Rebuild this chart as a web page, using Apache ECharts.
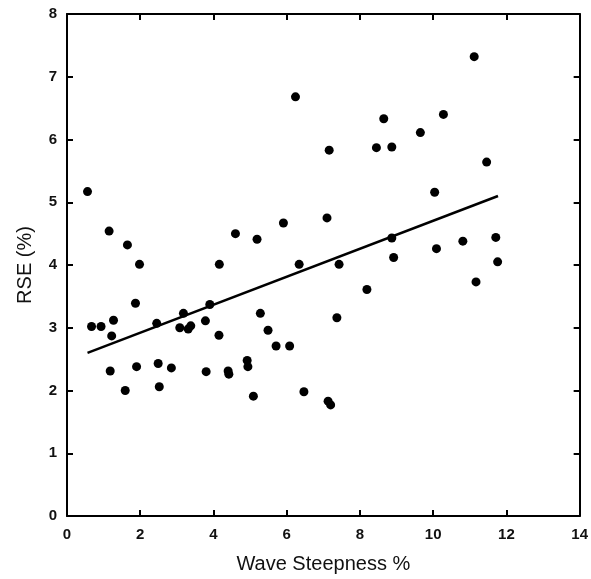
<!DOCTYPE html>
<html>
<head>
<meta charset="utf-8">
<script src="https://cdn.jsdelivr.net/npm/echarts@6/dist/echarts.min.js"></script>
<style>
html, body { margin: 0; padding: 0; background: #fff; }
#chart { width: 591px; height: 579px; }
</style>
</head>
<body>
<div id="chart"></div>
<script>
// wave steepness (%) vs RSE (%)
var steepness = [0.56, 1.15, 1.65, 1.98, 4.16, 4.6, 5.19, 5.91, 6.24, 6.34,
    11.12, 7.16, 8.65, 10.28, 9.65, 8.45, 8.87, 11.46, 10.04, 7.1,
    8.87, 11.71, 10.81, 10.09, 8.92, 7.43, 11.76, 11.17, 8.19, 7.37,
    6.47, 7.13, 7.2, 0.67, 0.93, 1.27, 1.22, 1.87, 1.18, 1.59,
    1.9, 2.45, 2.49, 2.52, 2.85, 3.08, 3.18, 3.31, 3.38, 3.78,
    3.9, 3.8, 4.15, 4.4, 4.42, 4.92, 4.94, 5.09, 5.28, 5.49,
    5.71, 6.08];
var rse = [5.17, 4.54, 4.32, 4.01, 4.01, 4.5, 4.41, 4.67, 6.68, 4.01,
    7.32, 5.83, 6.33, 6.4, 6.11, 5.87, 5.88, 5.64, 5.16, 4.75,
    4.43, 4.44, 4.38, 4.26, 4.12, 4.01, 4.05, 3.73, 3.61, 3.16,
    1.98, 1.83, 1.77, 3.02, 3.02, 3.12, 2.87, 3.39, 2.31, 2.0,
    2.38, 3.07, 2.43, 2.06, 2.36, 3.0, 3.23, 2.98, 3.03, 3.11,
    3.37, 2.3, 2.88, 2.31, 2.26, 2.48, 2.38, 1.91, 3.23, 2.96,
    2.71, 2.71];
// regression line end points
var fitX = [0.56, 11.77];
var fitY = [2.6, 5.1];
var xTicks = [0, 2, 4, 6, 8, 10, 12, 14];
var yTicks = [0, 1, 2, 3, 4, 5, 6, 7, 8];

var points = steepness.map(function (x, i) { return [x, rse[i]]; });
var fitLine = fitX.map(function (x, i) { return [x, fitY[i]]; });

var font = 'Liberation Sans, Arial, Helvetica, sans-serif';
var axisLine = { show: true, onZero: false, lineStyle: { color: '#000', width: 2 } };
var tickIn = { show: true, inside: true, length: 6, lineStyle: { color: '#000', width: 2 } };

var myChart = echarts.init(document.getElementById('chart'));
var option = {
    backgroundColor: '#fff',
    animation: false,
    grid: { left: 67, right: 11, top: 14, bottom: 59 },
    xAxis: [{
        type: 'value', min: xTicks[0], max: xTicks[xTicks.length - 1], interval: 2,
        position: 'bottom',
        name: 'Wave Steepness %', nameLocation: 'middle', nameGap: 38,
        nameTextStyle: { fontFamily: font, fontSize: 20, color: '#111' },
        axisLine: axisLine, axisTick: tickIn, splitLine: { show: false },
        axisLabel: { fontFamily: font, fontSize: 15, fontWeight: 'bold', color: '#111', margin: 11 }
    }, {
        type: 'value', min: 0, max: 14, interval: 2, position: 'top',
        axisLine: axisLine, axisTick: tickIn, axisLabel: { show: false }, splitLine: { show: false }
    }],
    yAxis: [{
        type: 'value', min: yTicks[0], max: yTicks[yTicks.length - 1], interval: 1,
        position: 'left',
        name: 'RSE (%)', nameLocation: 'middle', nameGap: 32, nameRotate: 90,
        nameTextStyle: { fontFamily: font, fontSize: 20, color: '#111' },
        axisLine: axisLine, axisTick: tickIn, splitLine: { show: false },
        axisLabel: { fontFamily: font, fontSize: 15, fontWeight: 'bold', color: '#111', margin: 10 }
    }, {
        type: 'value', min: 0, max: 8, interval: 1, position: 'right',
        axisLine: axisLine, axisTick: tickIn, axisLabel: { show: false }, splitLine: { show: false }
    }],
    series: [{
        type: 'scatter',
        data: points,
        symbol: 'circle',
        symbolSize: 9,
        itemStyle: { color: '#000', opacity: 1 }
    }, {
        type: 'line',
        data: fitLine,
        symbol: 'none',
        lineStyle: { color: '#000', width: 2.5 }
    }]
};
myChart.setOption(option);
</script>
</body>
</html>
